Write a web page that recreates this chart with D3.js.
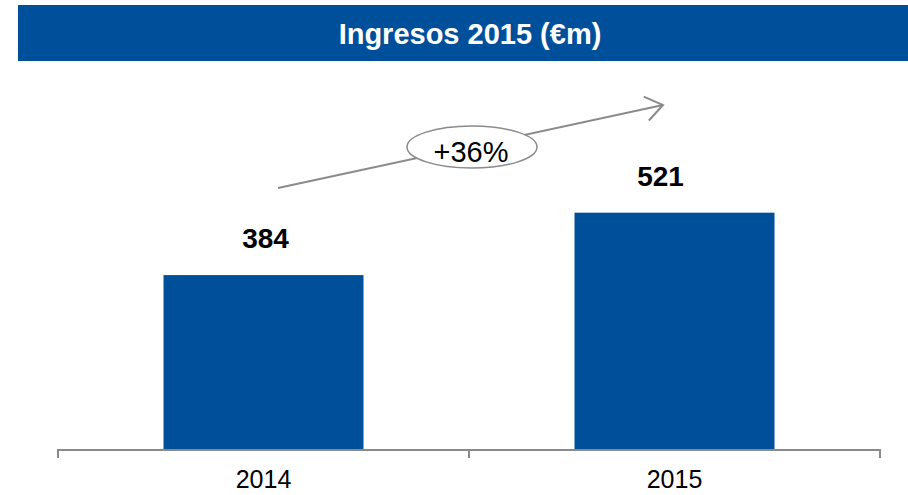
<!DOCTYPE html>
<html>
<head>
<meta charset="utf-8">
<script src="https://cdn.jsdelivr.net/npm/d3@7"></script>
<style>
  body { margin: 0; background: #fff; }
  svg { display: block; font-family: "Liberation Sans", Arial, sans-serif; }
</style>
</head>
<body>
<div id="chart"></div>
<script>
// Data
const title = 'Ingresos 2015 (€m)';
const years = ['2014', '2015'];
const revenue = [384, 521];

const width = 908;
const height = 495;
const baseY = 450;
const blue = '#004f9a';
const grey = '#8a8a8a';

const svg = d3.select('#chart')
  .append('svg')
  .attr('width', width)
  .attr('height', height);

// Title banner
svg.append('rect')
  .attr('x', 18).attr('y', 5)
  .attr('width', width - 18).attr('height', 56)
  .attr('fill', blue);

svg.append('text')
  .attr('x', 470).attr('y', 44)
  .attr('text-anchor', 'middle')
  .attr('fill', '#fff')
  .style('font-size', '29px')
  .style('font-weight', 'bold')
  .text(title);

// Scales
const x = d3.scaleBand()
  .domain(years)
  .range([58, 880])
  .paddingInner(0.5134)
  .paddingOuter(0.2567);

const y = d3.scaleLinear()
  .domain([0, 600])
  .range([baseY, baseY - 0.4555 * 600]);

// Bars
svg.append('g')
  .selectAll('rect')
  .data(years)
  .join('rect')
  .attr('x', d => x(d))
  .attr('y', (d, i) => y(revenue[i]))
  .attr('width', x.bandwidth())
  .attr('height', (d, i) => baseY - y(revenue[i]))
  .attr('fill', blue);

// Value labels (the 2015 label sits a little left of the bar centre in the original)
const labelShift = [2, -14];
svg.append('g')
  .selectAll('text')
  .data(years)
  .join('text')
  .attr('x', (d, i) => x(d) + x.bandwidth() / 2 + labelShift[i])
  .attr('y', (d, i) => y(revenue[i]) - 27)
  .attr('text-anchor', 'middle')
  .style('font-size', '28px')
  .style('font-weight', 'bold')
  .attr('fill', '#000')
  .text((d, i) => revenue[i]);

// Axis line with ticks at band boundaries
const edges = [x.range()[0], ...years.map(d => x(d) + x.bandwidth() + x.step() * x.paddingInner() / 2)];
edges[edges.length - 1] = x.range()[1];
const axis = svg.append('g').attr('stroke', grey).attr('stroke-width', 2).attr('fill', 'none');
axis.append('line')
  .attr('x1', x.range()[0]).attr('x2', x.range()[1])
  .attr('y1', baseY).attr('y2', baseY);
axis.selectAll('.tick')
  .data(edges)
  .join('line')
  .attr('class', 'tick')
  .attr('x1', d => d).attr('x2', d => d)
  .attr('y1', baseY - 1).attr('y2', baseY + 8);

// Category labels
svg.append('g')
  .selectAll('text')
  .data(years)
  .join('text')
  .attr('x', d => x(d) + x.bandwidth() / 2)
  .attr('y', 488)
  .attr('text-anchor', 'middle')
  .style('font-size', '25px')
  .attr('fill', '#000')
  .text(d => d);

// Growth arrow with ellipse badge
const p0 = [278, 188];
const p1 = [663, 105];
svg.append('line')
  .attr('x1', p0[0]).attr('y1', p0[1])
  .attr('x2', p1[0]).attr('y2', p1[1])
  .attr('stroke', grey)
  .attr('stroke-width', 2);

const ang = Math.atan2(p0[1] - p1[1], p0[0] - p1[0]);
const headLen = 21;
const spread = 0.62;
const head = [
  [p1[0] + headLen * Math.cos(ang + spread), p1[1] + headLen * Math.sin(ang + spread)],
  p1,
  [p1[0] + headLen * Math.cos(ang - spread), p1[1] + headLen * Math.sin(ang - spread)]
];
svg.append('path')
  .attr('d', d3.line()(head))
  .attr('fill', 'none')
  .attr('stroke', grey)
  .attr('stroke-width', 2);

const growth = Math.round((revenue[1] / revenue[0] - 1) * 100);
svg.append('ellipse')
  .attr('cx', 472).attr('cy', 147)
  .attr('rx', 65).attr('ry', 21)
  .attr('fill', '#fff')
  .attr('stroke', grey)
  .attr('stroke-width', 1.5);

svg.append('text')
  .attr('x', 471).attr('y', 162)
  .attr('text-anchor', 'middle')
  .style('font-size', '29px')
  .attr('fill', '#000')
  .text(`+${growth}%`);
</script>
</body>
</html>
